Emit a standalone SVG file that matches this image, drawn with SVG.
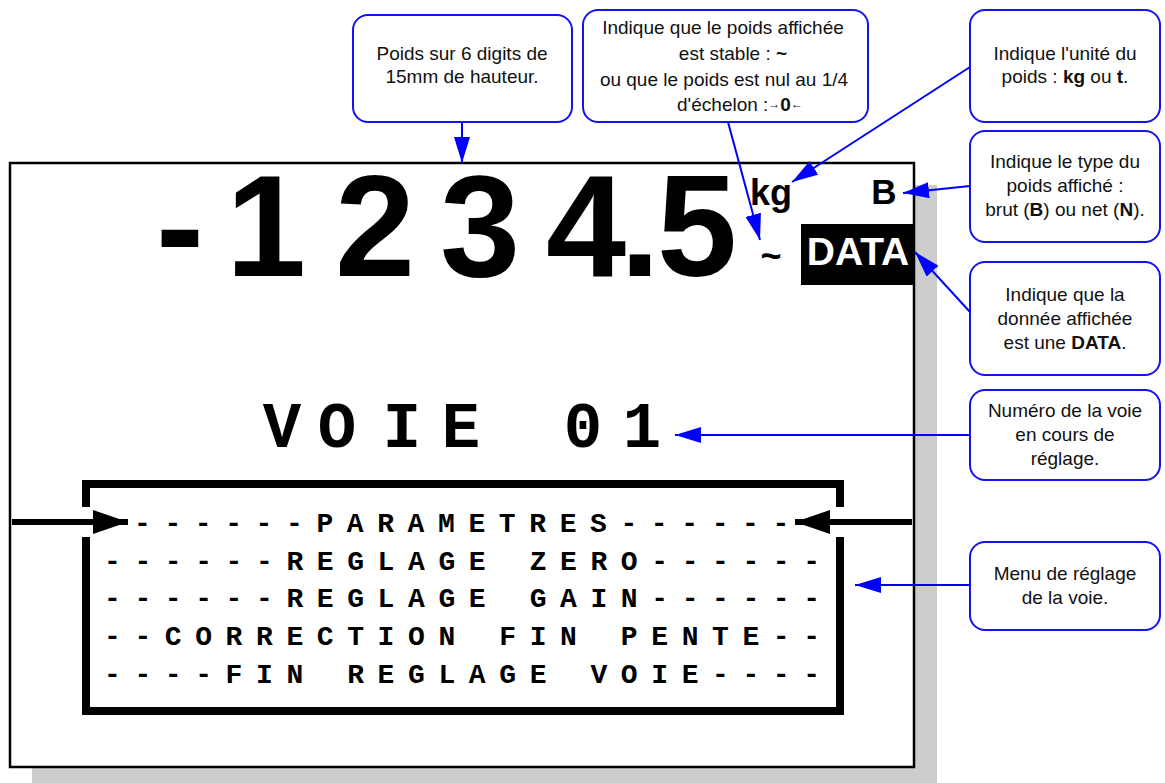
<svg xmlns="http://www.w3.org/2000/svg" width="1165" height="783" viewBox="0 0 1165 783">
  <defs>
    <style>
      .callout rect { fill: #ffffff; stroke: #1414f0; stroke-width: 2; }
      .callout text { font-family: "Liberation Sans", Arial, sans-serif; font-size: 19px; fill: #111111; text-anchor: middle; }
      .b { font-weight: bold; }
      .wire { stroke: #0000ff; stroke-width: 2; fill: none; marker-end: url(#blueHead); }
      .thick { stroke: #000000; stroke-width: 6; fill: none; marker-end: url(#blackHead); }
      .digits { font-family: "Liberation Sans", Arial, sans-serif; font-weight: bold; font-size: 144px; text-anchor: middle; fill: #000; }
      .mono { font-family: "Liberation Mono", "Courier New", monospace; font-weight: bold; fill: #000; }
      .menu { font-size: 28px; letter-spacing: 13.6px; }
    </style>
    <marker id="blueHead" markerUnits="userSpaceOnUse" markerWidth="26" markerHeight="16" refX="26" refY="8" orient="auto">
      <path d="M0,0 L26,8 L0,16 z" fill="#0000ff"/>
    </marker>
    <marker id="blackHead" markerUnits="userSpaceOnUse" markerWidth="36" markerHeight="24" refX="35" refY="12" orient="auto">
      <path d="M0,0 L35,12 L0,24 z" fill="#000000"/>
    </marker>
  </defs>

  <!-- display panel with drop shadow -->
  <g id="display">
    <rect x="32" y="185" width="905" height="605" fill="#cccccc"/>
    <rect x="10" y="163" width="904" height="604" fill="#ffffff" stroke="#000000" stroke-width="2.5"/>

    <!-- weight readout -->
    <text class="digits" y="276" x="180 266 375 480 586 640 697">-1234.5</text>
    <text x="771" y="205" font-family="Liberation Sans, Arial, sans-serif" font-weight="bold" font-size="36" text-anchor="middle">kg</text>
    <text x="884" y="204" font-family="Liberation Sans, Arial, sans-serif" font-weight="bold" font-size="35" text-anchor="middle">B</text>
    <text x="771" y="268" font-family="Liberation Sans, Arial, sans-serif" font-weight="bold" font-size="36" text-anchor="middle">~</text>
    <rect x="801" y="224" width="113" height="61" fill="#000000"/>
    <text x="858" y="265" font-family="Liberation Sans, Arial, sans-serif" font-weight="bold" font-size="39" text-anchor="middle" fill="#ffffff">DATA</text>

    <!-- channel number -->
    <text class="mono" font-size="64" text-anchor="middle" y="447" x="282 337 402 461 522 583 642">VOIE 01</text>

    <!-- settings menu -->
    <path d="M86,507 V484 H840 V507 M840,537 V711 H86 V537" fill="none" stroke="#000000" stroke-width="8"/>
    <text class="mono menu" x="134" y="532">------PARAMETRES------</text>
    <text class="mono menu" x="104" y="570">------REGLAGE ZERO------</text>
    <text class="mono menu" x="104" y="607">------REGLAGE GAIN------</text>
    <text class="mono menu" x="104" y="645">--CORRECTION FIN PENTE--</text>
    <text class="mono menu" x="104" y="683">----FIN REGLAGE VOIE----</text>
  </g>

  <g id="note-digits" class="callout">
    <rect x="353" y="15" width="219" height="107" rx="15"/>
    <text x="462" y="60">Poids sur 6 digits de</text>
    <text x="462" y="83">15mm de hauteur.</text>
  </g>

  <g id="note-stable" class="callout">
    <rect x="583" y="10" width="285" height="112" rx="15"/>
    <text x="723" y="34">Indique que le poids affichée</text>
    <text x="733" y="60">est stable : <tspan class="b">~</tspan></text>
    <text x="724" y="86">ou que le poids est nul au 1/4</text>
    <text x="740" y="111">d'échelon :<tspan class="b" font-size="12" dy="-3">→</tspan><tspan class="b" dy="3">0</tspan><tspan class="b" font-size="12" dy="-3">←</tspan></text>
  </g>

  <g id="note-unit" class="callout">
    <rect x="970" y="10" width="190" height="112" rx="15"/>
    <text x="1065" y="60">Indique l'unité du</text>
    <text x="1065" y="83">poids : <tspan class="b">kg</tspan> ou <tspan class="b">t</tspan>.</text>
  </g>

  <g id="note-type" class="callout">
    <rect x="970" y="131" width="190" height="111" rx="15"/>
    <text x="1065" y="168">Indique le type du</text>
    <text x="1065" y="192">poids affiché :</text>
    <text x="1065" y="216">brut (<tspan class="b">B</tspan>) ou net (<tspan class="b">N</tspan>).</text>
  </g>

  <g id="note-data" class="callout">
    <rect x="970" y="262" width="190" height="113" rx="15"/>
    <text x="1065" y="301">Indique que la</text>
    <text x="1065" y="325">donnée affichée</text>
    <text x="1065" y="349">est une <tspan class="b">DATA</tspan>.</text>
  </g>

  <g id="note-channel" class="callout">
    <rect x="970" y="390" width="190" height="90" rx="15"/>
    <text x="1065" y="417">Numéro de la voie</text>
    <text x="1065" y="441">en cours de</text>
    <text x="1065" y="465">réglage.</text>
  </g>

  <g id="note-menu" class="callout">
    <rect x="970" y="542" width="190" height="88" rx="15"/>
    <text x="1065" y="580">Menu de réglage</text>
    <text x="1065" y="604">de la voie.</text>
  </g>

  <g id="connectors">
    <line class="wire" x1="462" y1="122" x2="462" y2="163"/>
    <line class="wire" x1="728" y1="122" x2="760" y2="240"/>
    <line class="wire" x1="970" y1="67" x2="792" y2="182"/>
    <line class="wire" x1="970" y1="186" x2="903" y2="193"/>
    <line class="wire" x1="970" y1="312" x2="915" y2="252"/>
    <line class="wire" x1="970" y1="435" x2="675" y2="435"/>
    <line class="wire" x1="970" y1="585" x2="855" y2="585"/>
    <line class="thick" x1="12" y1="522" x2="128" y2="522"/>
    <line class="thick" x1="912" y1="522" x2="795" y2="522"/>
  </g>
</svg>
